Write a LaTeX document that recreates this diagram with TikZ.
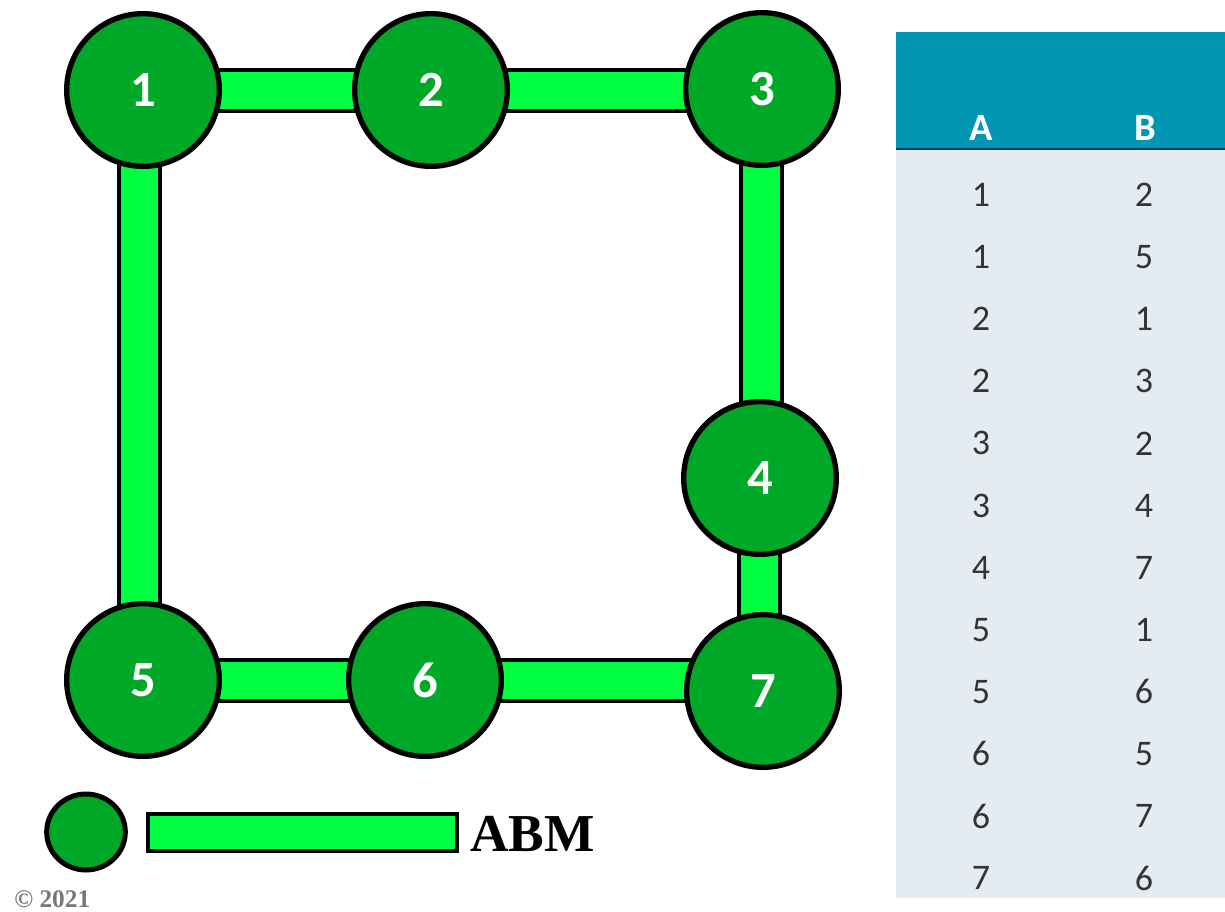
\documentclass[tikz,border=0pt]{standalone}
\usepackage{fontspec}
\setmainfont{Liberation Serif}
\newfontfamily\calib{Carlito}
\usetikzlibrary{backgrounds,shapes.geometric}
\definecolor{nodegreen}{RGB}{0,168,40}
\definecolor{bargreen}{RGB}{0,255,64}
\definecolor{headteal}{RGB}{0,150,180}
\definecolor{headline}{RGB}{10,70,90}
\definecolor{bodygray}{RGB}{228,235,241}
\definecolor{copygray}{RGB}{120,120,120}
\begin{document}
\begin{tikzpicture}[x=0.75pt,y=-0.75pt,
  vert/.style={circle,draw=black,line width=4pt,fill=nodegreen,minimum size=114.5pt,inner sep=0pt,
    text=white,font=\calib\bfseries\fontsize{38}{40}\selectfont},
  barout/.style={line width=33.75pt,draw=black},
  barin/.style={line width=27.75pt,draw=bargreen},
  cell/.style={font=\calib\fontsize{27}{30}\selectfont,text=black!80,inner sep=0pt},
  headcell/.style={font=\calib\bfseries\fontsize{29}{32}\selectfont,text=white,inner sep=0pt}]
\useasboundingbox (0,0) rectangle (1225,911);

% vertices
\node[vert] (n1) at (143,90) {1};
\node[vert] (n2) at (431,90) {2};
\node[vert] (n3) at (762,89) {3};
\node[vert] (n4) at (760,478) {4};
\node[vert] (n5) at (143,680) {5};
\node[vert] (n6) at (425,680) {6};
\node[vert] (n7) at (763,691) {7};

% edges
\begin{scope}[on background layer]
  \foreach \a/\b in {n1/n2,n2/n3,n5/n6,n6/n7}{
    \draw[barout] (\a.center) -- (\a.center -| \b.center);
    \draw[barin] (\a.center) -- (\a.center -| \b.center);
  }
  \draw[barout] ([xshift=-3pt]n1.center) -- ([xshift=-3pt]n5.center);
  \draw[barin] ([xshift=-3pt]n1.center) -- ([xshift=-3pt]n5.center);
  \foreach \a/\b in {n3/n4,n4/n7}{
    \draw[barout] ([xshift=-0.5pt]\a.center) -- ([xshift=-0.5pt]\a.center |- \b.center);
    \draw[barin] ([xshift=-0.5pt]\a.center) -- ([xshift=-0.5pt]\a.center |- \b.center);
  }
\end{scope}

% legend
\node[ellipse,draw=black,line width=3.75pt,fill=nodegreen,minimum width=59pt,minimum height=57pt,inner sep=0pt] (lc) at (86,832) {};
\node[draw=black,line width=3pt,fill=bargreen,minimum width=232pt,minimum height=28pt,inner sep=0pt,anchor=west] (lb) at (146,832.5) {};
\node[anchor=west,inner sep=0pt,font=\bfseries\fontsize{40}{44}\selectfont] (abm) at (470,834) {ABM};
\node[anchor=west,inner sep=0pt,text=copygray,font=\bfseries\fontsize{19}{21}\selectfont] (copy) at (14,899) {© 2021};

% table
\fill[bodygray] (896,148) rectangle (1225,898);
\fill[headteal] (896,32) rectangle (1225,148);
\draw[headline,line width=2pt] (896,149) -- (1225,149);
\node[headcell] (hA) at (981,128) {A};
\node[headcell] (hB) at (1145,128) {B};
\foreach \i/\a/\b in {0/1/2,1/1/5,2/2/1,3/2/3,4/3/2,5/3/4,6/4/7,7/5/1,8/5/6,9/6/5,10/6/7,11/7/6}{
  \node[cell] (a\i) at (981,{195+62.1*\i}) {\a};
  \node[cell] (b\i) at (1144,{195+62.1*\i}) {\b};
}
\end{tikzpicture}
\end{document}
